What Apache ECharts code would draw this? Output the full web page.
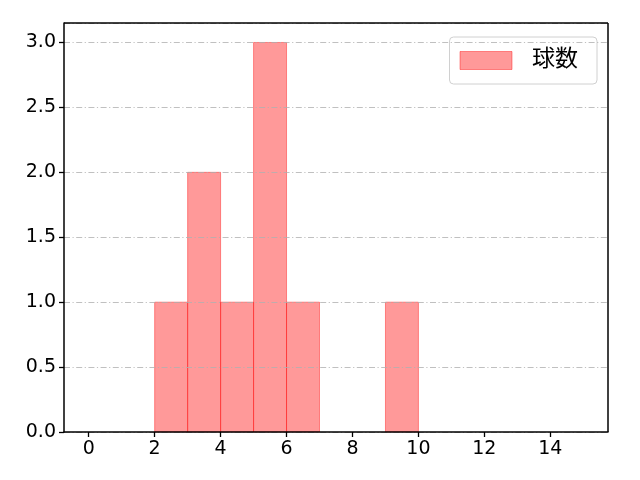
<!DOCTYPE html>
<html lang="en">
<head>
<meta charset="UTF-8">
<title>球数 histogram</title>
<style>
  html, body { margin: 0; padding: 0; background: #fff; }
  #chart { width: 640px; height: 480px; }
</style>
</head>
<body>
<div id="chart"></div>
<script src="https://cdn.jsdelivr.net/npm/echarts@6/dist/echarts.min.js"></script>
<script>
// histogram bins: left edge, right edge, count
var binStart = [2, 3, 4, 5, 6, 9];
var binEnd = [3, 4, 5, 6, 7, 10];
var binCount = [1, 2, 1, 3, 1, 1];
var xTicks = [0, 2, 4, 6, 8, 10, 12, 14];
var yTicks = [0, 0.5, 1.0, 1.5, 2.0, 2.5, 3.0];
var seriesName = '球数';

var chart = echarts.init(document.getElementById('chart'));

var bins = [];
for (var i = 0; i < binStart.length; i++) {
  bins.push([binStart[i], binEnd[i], binCount[i]]);
}

var font = 'DejaVu Sans, Noto Sans CJK JP, sans-serif';

function renderBin(params, api) {
  var p0 = api.coord([api.value(0), api.value(2)]);
  var p1 = api.coord([api.value(1), 0]);
  return {
    type: 'rect',
    shape: { x: p0[0], y: p0[1], width: p1[0] - p0[0], height: p1[1] - p0[1] },
    style: { fill: 'rgba(255,0,0,0.4)', stroke: 'rgba(255,0,0,0.4)', lineWidth: 1 }
  };
}

var option = {
  animation: false,
  backgroundColor: '#fff',
  grid: { left: 64, right: 32, top: 23, bottom: 48 },
  legend: {
    right: 43, top: 37,
    data: [{ name: seriesName, icon: 'rect' }],
    itemWidth: 52, itemHeight: 18, itemGap: 0,
    padding: [12, 19, 12, 10],
    borderColor: '#d0d0d0', borderWidth: 1, borderRadius: 4,
    backgroundColor: '#fff',
    textStyle: { fontSize: 23, color: '#000', fontFamily: font, padding: [0, 0, 0, 15] },
    itemStyle: { color: 'rgba(255,0,0,0.4)', borderColor: 'rgba(255,0,0,0.4)', borderWidth: 1 }
  },
  xAxis: {
    type: 'value', min: -0.75, max: 15.75, z: 8,
    axisLine: { show: true, onZero: false, lineStyle: { color: '#000', width: 1.5 } },
    axisTick: { show: true, length: 5, customValues: xTicks, lineStyle: { color: '#000', width: 1.3 } },
    axisLabel: { customValues: xTicks, fontSize: 19, color: '#000', fontFamily: font, margin: 8 },
    splitLine: { show: false }
  },
  yAxis: [{
    type: 'value', min: 0, max: 3.15, z: 8,
    axisLine: { show: true, onZero: false, lineStyle: { color: '#000', width: 1.5 } },
    axisTick: { show: true, length: 5, customValues: yTicks, lineStyle: { color: '#000', width: 1.3 } },
    axisLabel: {
      customValues: yTicks, fontSize: 19, color: '#000', fontFamily: font, margin: 8,
      formatter: function (v) { return v.toFixed(1); }
    },
    splitLine: { show: false }
  }, {
    // grid lines drawn over the bars, like the original
    type: 'value', min: 0, max: 3.15, interval: 0.5, position: 'left', z: 5,
    axisLine: { show: false }, axisTick: { show: false }, axisLabel: { show: false },
    splitLine: {
      show: true,
      lineStyle: { color: '#b0b0b0', width: 0.8, type: [6, 2.5, 1.2, 2.5] }
    }
  }],
  series: [{
    name: seriesName,
    type: 'custom',
    renderItem: renderBin,
    encode: { x: [0, 1], y: 2 },
    data: bins
  }, {
    // top and right frame lines
    type: 'line', silent: true, data: [], z: 9,
    markLine: {
      symbol: 'none', silent: true, animation: false,
      lineStyle: { color: '#000', width: 1.5, type: 'solid' },
      label: { show: false },
      data: [
        [{ coord: [-0.75, 3.15] }, { coord: [15.75, 3.15] }],
        [{ coord: [15.75, 0] }, { coord: [15.75, 3.15] }]
      ]
    }
  }]
};

chart.setOption(option);
</script>
</body>
</html>
